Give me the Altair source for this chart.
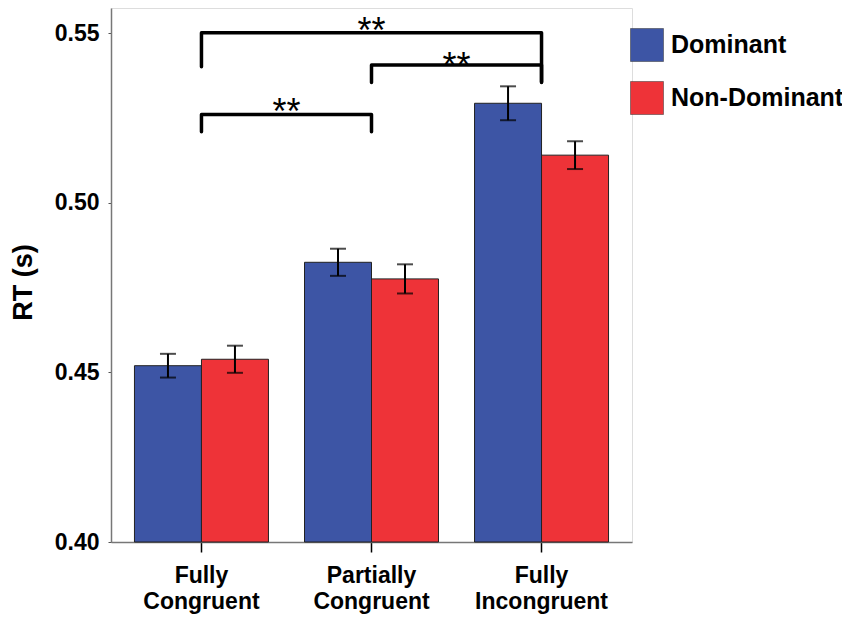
import altair as alt
import pandas as pd

FONT = "Liberation Sans"

conditions = ["Fully Congruent", "Partially Congruent", "Fully Incongruent"]
groups = ["Dominant", "Non-Dominant"]
dominant_mean = [0.4520, 0.4825, 0.5294]
dominant_se = [0.0035, 0.0040, 0.0050]
nondominant_mean = [0.4539, 0.4776, 0.5141]
nondominant_se = [0.0040, 0.0043, 0.0041]
colors = ["#3D55A5", "#EE3338"]

# significance brackets (bracket id, condition, y value, drawing order)
bracket_id = ["A", "A", "A", "A", "B", "B", "B", "B", "C", "C", "C", "C"]
bracket_cond = ["Fully Congruent", "Fully Congruent", "Fully Incongruent", "Fully Incongruent",
                "Partially Congruent", "Partially Congruent", "Fully Incongruent", "Fully Incongruent",
                "Fully Congruent", "Fully Congruent", "Partially Congruent", "Partially Congruent"]
bracket_y = [0.5402, 0.5502, 0.5502, 0.5357,
             0.5355, 0.5407, 0.5407, 0.5355,
             0.5210, 0.5261, 0.5261, 0.5210]
bracket_ord = [0, 1, 2, 3, 0, 1, 2, 3, 0, 1, 2, 3]

star_centre_cond = ["Partially Congruent"]
star_centre_y = [0.5531]
star_mid_cond = ["Partially Congruent", "Fully Congruent"]
star_mid_y = [0.5427, 0.5291]

rows = []
for i, c in enumerate(conditions):
    rows.append({"cond": c, "group": groups[0], "mean": dominant_mean[i],
                 "lo": dominant_mean[i] - dominant_se[i], "hi": dominant_mean[i] + dominant_se[i]})
    rows.append({"cond": c, "group": groups[1], "mean": nondominant_mean[i],
                 "lo": nondominant_mean[i] - nondominant_se[i], "hi": nondominant_mean[i] + nondominant_se[i]})
df = pd.DataFrame(rows)

br = pd.DataFrame({"id": bracket_id, "cond": bracket_cond, "y": bracket_y, "ord": bracket_ord})
sc = pd.DataFrame({"cond": star_centre_cond, "y": star_centre_y, "t": ["**"]})
sm = pd.DataFrame({"cond": star_mid_cond, "y": star_mid_y, "t": ["**", "**"]})

xscale = alt.Scale(domain=conditions, paddingInner=0.212, paddingOuter=0.138)
yscale = alt.Scale(domain=[0.40, 0.5575], zero=False, nice=False)

x = alt.X("cond:N", scale=xscale, sort=conditions,
          axis=alt.Axis(title=None, labelExpr="split(datum.label, ' ')", labelAngle=0,
                        labelFont=FONT, labelFontSize=23, labelFontWeight="bold", labelColor="black",
                        labelLineHeight=26, labelPadding=12, tickSize=10, tickColor="black",
                        tickWidth=1.5, domainColor="#777777", domainWidth=1.5))
xo = alt.XOffset("group:N", scale=alt.Scale(domain=groups, paddingInner=0, paddingOuter=0))
y = alt.Y("mean:Q", scale=yscale,
          axis=alt.Axis(title="RT (s)", values=[0.40, 0.45, 0.50, 0.55], format=".2f", grid=False,
                        labelFont=FONT, labelFontSize=23, labelFontWeight="bold", labelColor="black",
                        labelPadding=9, tickSize=3, tickColor="#555555", domainColor="#777777",
                        domainWidth=1.5, titleFont=FONT, titleFontSize=27, titleFontWeight="bold",
                        titleColor="black", titleX=-80, titleY=274, titleBaseline="alphabetic",
                        titleAngle=270, titleAlign="center"))

bars = alt.Chart(df).mark_bar(stroke="#222222", strokeWidth=1).encode(
    x=x, xOffset=xo, y=y, y2=alt.datum(0.40),
    color=alt.Color("group:N", scale=alt.Scale(domain=groups, range=colors),
                    legend=alt.Legend(title=None, orient="none", legendX=519, legendY=20,
                                      symbolType="square", symbolSize=1089, symbolStrokeColor="#333333",
                                      symbolStrokeWidth=0.5, symbolOpacity=1,
                                      labelFont=FONT, labelFontSize=25, labelFontWeight="bold",
                                      labelColor="black", labelOffset=7, labelLimit=400,
                                      rowPadding=17, padding=0)),
)

err = alt.Chart(df).mark_rule(color="black", strokeWidth=2).encode(
    x=alt.X("cond:N", scale=xscale, sort=conditions), xOffset=xo,
    y=alt.Y("lo:Q", scale=yscale), y2="hi:Q")
cap_lo = alt.Chart(df).mark_tick(color="black", thickness=2, size=16).encode(
    x=alt.X("cond:N", scale=xscale, sort=conditions), xOffset=xo, y=alt.Y("lo:Q", scale=yscale))
cap_hi = alt.Chart(df).mark_tick(color="black", thickness=2, size=16).encode(
    x=alt.X("cond:N", scale=xscale, sort=conditions), xOffset=xo, y=alt.Y("hi:Q", scale=yscale))

brackets = alt.Chart(br).mark_line(color="black", strokeWidth=3.5, strokeJoin="round",
                                   strokeCap="round", interpolate="linear").encode(
    x=alt.X("cond:N", scale=xscale, sort=conditions),
    y=alt.Y("y:Q", scale=yscale), detail="id:N", order="ord:Q")

stars_c = alt.Chart(sc).mark_text(font=FONT, fontSize=36, color="black", baseline="alphabetic",
                                  dy=20).encode(
    x=alt.X("cond:N", scale=xscale, sort=conditions), y=alt.Y("y:Q", scale=yscale), text="t:N")
stars_m = alt.Chart(sm).mark_text(font=FONT, fontSize=36, color="black", baseline="alphabetic",
                                  dy=20, dx=85).encode(
    x=alt.X("cond:N", scale=xscale, sort=conditions), y=alt.Y("y:Q", scale=yscale), text="t:N")

chart = alt.layer(bars, err, cap_lo, cap_hi, brackets, stars_c, stars_m).properties(
    width=521, height=534,
    autosize=alt.AutoSizeParams(type="none"),
    padding={"left": 103, "top": 0, "right": 210, "bottom": 74},
).configure_view(stroke=None).configure(background="white")

chart.save("out.html", embed_options={"renderer": "svg", "actions": False})
